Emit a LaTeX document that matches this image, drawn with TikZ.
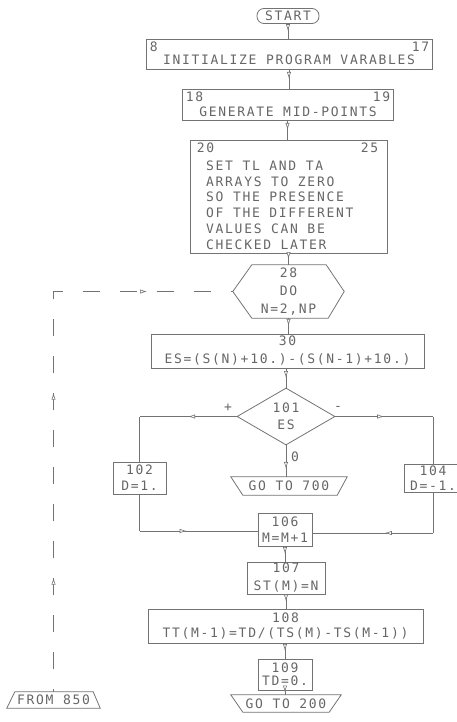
\documentclass[tikz,border=0pt]{standalone}
\usepackage{fontspec}
\newfontfamily\tyfont[LetterSpace=13]{DejaVu Sans Mono}
\usetikzlibrary{decorations.markings,calc,arrows.meta,shapes.geometric}
\begin{document}
\begin{tikzpicture}[x=1pt,y=-1pt,
  every node/.style={font=\tyfont\fontsize{13}{16}\selectfont, text=black!60, inner sep=0pt},
  ln/.style={draw=black!55, line width=0.8pt},
  box/.style={ln, draw, align=center},
  tip/.tip={Latex[length=7pt,width=4.2pt,fill=white,line width=0.6pt]},
  midarrow/.style={postaction={decorate,decoration={markings,mark=at position #1 with {\arrow[black!55]{tip}}}}},
  midarrow/.default=0.5,
  conn/.style={ln},
  dashline/.style={ln, dash pattern=on 17pt off 20pt, dash phase=14.5pt},
  sp18/.style={font=\tyfont\fontsize{13}{18}\selectfont},
  sp17/.style={font=\tyfont\fontsize{13}{17}\selectfont},
  sp15/.style={font=\tyfont\fontsize{13}{15.5}\selectfont}
]
\useasboundingbox (0,0) rectangle (456,722);

% START
\node[box, rounded corners=7pt, minimum width=62, minimum height=15] (start) at (288,16) {START};

% Box 1
\node[box, minimum width=286, minimum height=30] (b1) at (289,54) {};
\node (b1t) at (289,59.5) {INITIALIZE PROGRAM VARABLES};
\node[anchor=north west] (b1a) at ($(b1.north west)+(4,3)$) {8};
\node[anchor=north east] (b1b) at ($(b1.north east)+(-3,3)$) {17};

% Box 2
\node[box, minimum width=211, minimum height=31] (b2) at (287.5,104.5) {};
\node (b2t) at (288,112) {GENERATE MID-POINTS};
\node[anchor=north west] (b2a) at ($(b2.north west)+(4,3)$) {18};
\node[anchor=north east] (b2b) at ($(b2.north east)+(-3,3)$) {19};

% Box 3
\node[box, minimum width=197, minimum height=113] (b3) at (288.5,196.5) {};
\node[anchor=north west] (b3a) at ($(b3.north west)+(7,3)$) {20};
\node[anchor=north east] (b3b) at ($(b3.north east)+(-9,3)$) {25};
\node[anchor=north west, align=left, font=\tyfont\fontsize{13}{15.8}\selectfont] (b3t) at (206,160.5)
  {SET TL AND TA\\ARRAYS TO ZERO\\SO THE PRESENCE\\OF THE DIFFERENT\\VALUES CAN BE\\CHECKED LATER};

% Hexagon 28
\node[sp18, align=center, minimum width=111, minimum height=53] (hex) at (288.5,291.5) {28\\DO\\N=2,NP};
\draw[ln] (hex.west) -- ($(hex.north west)+(19,0)$) -- ($(hex.north east)+(-18,0)$) -- (hex.east)
  -- ($(hex.south east)+(-16,0)$) -- ($(hex.south west)+(19,0)$) -- cycle;

% Box 30
\node[box, sp18, minimum width=273, minimum height=34] (b30) at (287.5,351) {30\\ES=(S(N)+10.)-(S(N-1)+10.)};

% Diamond 101
\node[ln, draw, diamond, sp17, align=center, minimum width=98, minimum height=57] (dia) at (286,416.5) {101\\ES};
\node (plus) at (228,408) {+};
\node (minus) at (338,408) {-};

% Branch boxes
\node[box, minimum width=53, minimum height=32] (b102) at (139.5,478) {102\\D=1.};
\node[box, sp15, minimum width=58, minimum height=28] (b104) at (433,478) {104\\D=-1.};

% GO TO 700
\node[minimum width=116, minimum height=18] (g700) at (289,486) {GO TO 700};
\draw[ln] (g700.north west) -- (g700.north east) -- ($(g700.south east)+(-10,0)$) -- ($(g700.south west)+(12,0)$) -- cycle;
\node (zero) at (295,457) {0};

% Lower boxes
\node[box, sp15, minimum width=54, minimum height=33] (b106) at (285,529.5) {106\\M=M+1};
\node[box, sp18, minimum width=78, minimum height=32] (b107) at (286,578) {107\\ST(M)=N};
\node[box, sp15, minimum width=275, minimum height=34] (b108) at (285.5,626) {108\\TT(M-1)=TD/(TS(M)-TS(M-1))};
\node[box, font=\tyfont\fontsize{13}{13.5}\selectfont, minimum width=54, minimum height=31] (b109) at (285,674.5) {109\\TD=0.};

% GO TO 200
\node[minimum width=110, minimum height=17] (g200) at (286,703.5) {GO TO 200};
\draw[ln] (g200.north west) -- (g200.north east) -- ($(g200.south east)+(-12,0)$) -- ($(g200.south west)+(12,0)$) -- cycle;

% FROM 850
\node[minimum width=93, minimum height=16] (f850) at (53.5,700) {FROM 850};
\draw[ln] ($(f850.north west)+(8,0)$) -- ($(f850.north east)+(-7,0)$) -- (f850.south east) -- (f850.south west) -- cycle;

% Coordinates
\coordinate (c1) at (139.5,416.5);
\coordinate (c2) at (433,416.5);
\coordinate (c3) at (139.5,531);
\coordinate (c4) at (433,533);
\coordinate (c5) at (53.5,291.5);

% Connectors
\draw[conn, midarrow] (start.south) -- (start.south |- b1.north);
\draw[conn, midarrow] (b1t.south |- b1.south) -- (b1t.south |- b2.north);
\draw[conn, midarrow] (b2.south) -- (b2.south |- b3.north);
\draw[conn, midarrow] (b3.south) -- (b3.south |- hex.north);
\draw[conn, midarrow] (hex.south) -- (hex.south |- b30.north);
\draw[conn, midarrow] (dia.north |- b30.south) -- (dia.north);
\draw[conn, midarrow] (dia.west) -- (c1);
\draw[conn] (c1) -- (b102.north);
\draw[conn, midarrow] (dia.east) -- (c2);
\draw[conn] (c2) -- (b104.north);
\draw[conn, midarrow=0.75] (dia.south) -- (dia.south |- g700.north);
\draw[conn] (b102.south) -- (c3);
\draw[conn, midarrow=0.4] (c3) -- (c3 -| b106.west);
\draw[conn] (b104.south) -- (c4);
\draw[conn, midarrow=0.4] (c4) -- (c4 -| b106.east);
\draw[conn, midarrow] (b106.south) -- (b106.south |- b107.north);
\draw[conn, midarrow] (b107.south) -- (b107.south |- b108.north);
\draw[conn, midarrow] (b109.north |- b108.south) -- (b109.north);
\draw[conn, midarrow] (b109.south) -- (b109.south |- g200.north);
\draw[dashline, postaction={decorate,decoration={markings,
    mark=at position 0.197 with {\arrow[black!55]{tip}},
    mark=at position 0.516 with {\arrow[black!55]{tip}},
    mark=at position 0.852 with {\arrow[black!55]{tip}}}}]
  (f850.north) -- (c5) -- (hex.west);
\end{tikzpicture}
\end{document}
